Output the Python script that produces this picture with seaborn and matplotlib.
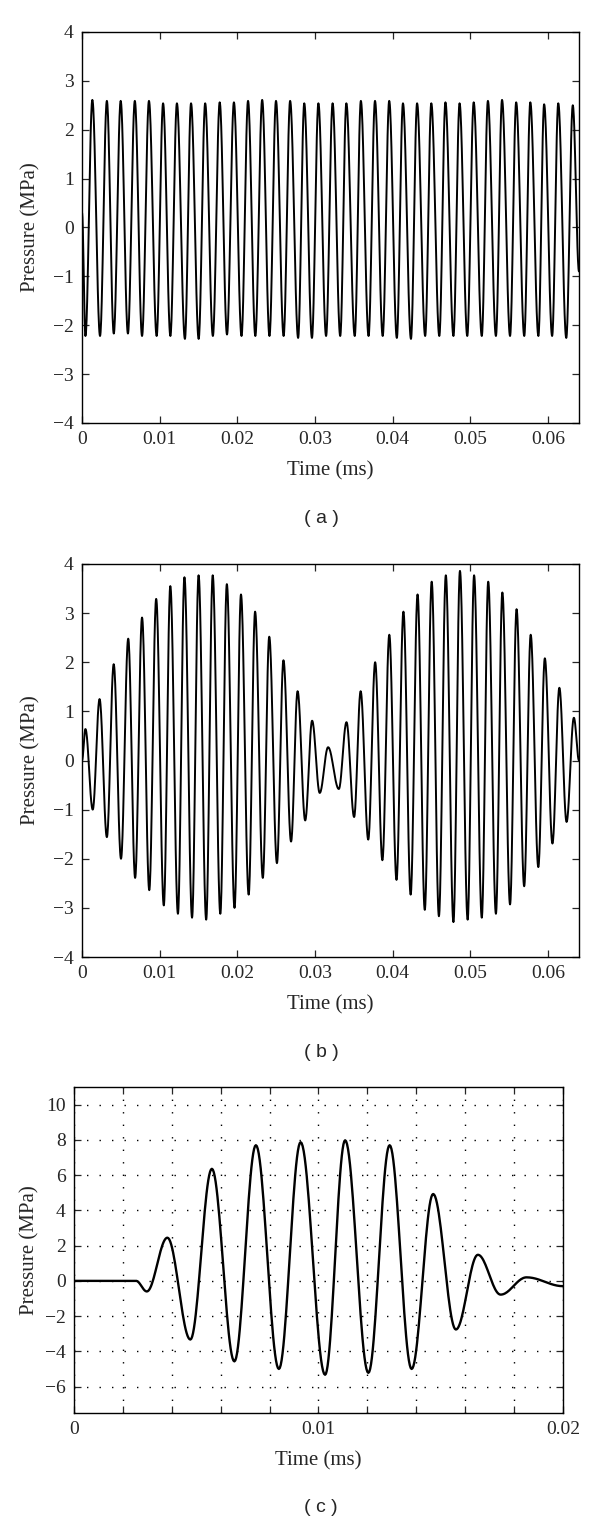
import numpy as np
import pandas as pd
import matplotlib
matplotlib.use("Agg")
import matplotlib.pyplot as plt
from matplotlib.ticker import FixedLocator, FuncFormatter
import seaborn as sns

# --- (a) constant-amplitude signal: extrema (time in ms, MPa) ---
a_trough_t = [0.00044, 0.00232, 0.00409, 0.00591, 0.00773, 0.00961, 0.01138, 0.01325,
              0.01502, 0.01685, 0.01867, 0.02054, 0.02232, 0.02414, 0.02596, 0.02783,
              0.02961, 0.03143, 0.03325, 0.03512, 0.03690, 0.03872, 0.04054, 0.04236,
              0.04419, 0.04601, 0.04783, 0.04961, 0.05148, 0.05330, 0.05512, 0.05695,
              0.05877, 0.06054, 0.06236]
a_trough_p = [-2.22, -2.22, -2.17, -2.17, -2.22, -2.22, -2.22, -2.28, -2.28, -2.22,
              -2.19, -2.22, -2.22, -2.22, -2.22, -2.26, -2.26, -2.22, -2.22, -2.22,
              -2.22, -2.22, -2.26, -2.28, -2.22, -2.22, -2.22, -2.22, -2.22, -2.22,
              -2.22, -2.22, -2.22, -2.22, -2.26]
a_peak_t = [0.00133, 0.00320, 0.00498, 0.00680, 0.00862, 0.01044, 0.01222, 0.01404,
            0.01586, 0.01773, 0.01956, 0.02138, 0.02320, 0.02498, 0.02680, 0.02862,
            0.03044, 0.03227, 0.03404, 0.03591, 0.03773, 0.03956, 0.04133, 0.04315,
            0.04498, 0.04680, 0.04862, 0.05044, 0.05227, 0.05409, 0.05591, 0.05773,
            0.05951, 0.06133, 0.06320]
a_peak_p = [2.61, 2.59, 2.59, 2.59, 2.59, 2.54, 2.54, 2.54, 2.54, 2.56, 2.56, 2.59,
            2.61, 2.59, 2.59, 2.54, 2.54, 2.54, 2.54, 2.59, 2.59, 2.59, 2.54, 2.54,
            2.54, 2.56, 2.54, 2.56, 2.59, 2.61, 2.56, 2.56, 2.52, 2.54, 2.50]
a_start = (0.0, 0.3)
a_end = (0.064, -0.9)

# --- (b) beating signal: alternating peak / trough extrema ---
b_ext_t = [0.0, 0.00044, 0.00138, 0.00226, 0.00320, 0.00408, 0.00502, 0.00595, 0.00684,
           0.00773, 0.00866, 0.00955, 0.01053, 0.01137, 0.01235, 0.01319, 0.01417,
           0.01501, 0.01599, 0.01683, 0.01781, 0.01865, 0.01964, 0.02047, 0.02146,
           0.02229, 0.02328, 0.02411, 0.02510, 0.02594, 0.02692, 0.02776, 0.02874,
           0.02963, 0.03061, 0.03169, 0.03307, 0.03406, 0.03504, 0.03588, 0.03686,
           0.03775, 0.03868, 0.03957, 0.04050, 0.04139, 0.04232, 0.04321, 0.04414,
           0.04503, 0.04596, 0.04685, 0.04783, 0.04867, 0.04966, 0.05049, 0.05148,
           0.05231, 0.05330, 0.05413, 0.05512, 0.05596, 0.05694, 0.05778, 0.05876,
           0.05960, 0.06058, 0.06147, 0.06240, 0.06334, 0.064]
b_ext_p = [0.0, 0.64, -1.0, 1.25, -1.56, 1.96, -2.0, 2.48, -2.39, 2.91, -2.64, 3.29,
           -2.95, 3.55, -3.12, 3.73, -3.2, 3.77, -3.24, 3.77, -3.12, 3.59, -3.0, 3.38,
           -2.73, 3.03, -2.39, 2.52, -2.09, 2.04, -1.65, 1.41, -1.22, 0.81, -0.66, 0.27,
           -0.58, 0.78, -1.15, 1.41, -1.61, 2.0, -2.03, 2.56, -2.43, 3.03, -2.73, 3.38,
           -3.04, 3.64, -3.17, 3.77, -3.29, 3.86, -3.24, 3.77, -3.2, 3.64, -3.12, 3.42,
           -2.93, 3.08, -2.56, 2.56, -2.17, 2.08, -1.69, 1.48, -1.25, 0.87, 0.0]

# --- (c) tone burst ---
c_ext_t = [0.0, 0.00254, 0.00298, 0.00382, 0.00476, 0.00564, 0.00656, 0.00744, 0.00838,
           0.00927, 0.01027, 0.01109, 0.01204, 0.01291, 0.01381, 0.01469, 0.01562,
           0.01652, 0.01745, 0.01851, 0.02]
c_ext_p = [0.0, 0.0, -0.6, 2.45, -3.33, 6.36, -4.57, 7.7, -5.0, 7.87, -5.33, 7.98,
           -5.22, 7.7, -5.0, 4.93, -2.76, 1.48, -0.78, 0.2, -0.3]

AB_XTICKS = [0, 0.01, 0.02, 0.03, 0.04, 0.05, 0.06]
AB_YTICKS = [-4, -3, -2, -1, 0, 1, 2, 3, 4]
C_XTICKS = [0, 0.002, 0.004, 0.006, 0.008, 0.01, 0.012, 0.014, 0.016, 0.018, 0.02]
C_XLABELED = [0, 0.01, 0.02]
C_YTICKS = [-6, -4, -2, 0, 2, 4, 6, 8, 10]


def wave_frame(times, values, n=24):
    """Join the read extrema with half-cosine arcs so the trace looks like the scope trace."""
    s = np.linspace(0, 1, n, endpoint=False)
    w = (1 - np.cos(np.pi * s)) / 2
    xs, ys = [], []
    for t0, t1, p0, p1 in zip(times[:-1], times[1:], values[:-1], values[1:]):
        xs.append(t0 + (t1 - t0) * s)
        ys.append(p0 + (p1 - p0) * w)
    xs.append([times[-1]])
    ys.append([values[-1]])
    return pd.DataFrame({"t": np.concatenate(xs), "p": np.concatenate(ys)})


def style_axes(ax, ypad=9, fs_tick=14, fs_label=15):
    for sp in ax.spines.values():
        sp.set_visible(True)
        sp.set_color("black")
        sp.set_linewidth(1.0)
    ax.tick_params(direction="in", top=True, right=True, length=5, width=0.9,
                   labelsize=fs_tick, pad=6)
    ax.set_xlabel("Time (ms)", fontsize=fs_label, labelpad=9)
    ax.set_ylabel("Pressure (MPa)", fontsize=fs_label, labelpad=ypad)


sns.set_style("ticks")
plt.rcParams["font.family"] = ["Liberation Serif", "DejaVu Serif"]
plt.rcParams["axes.unicode_minus"] = True

fig = plt.figure(figsize=(6.0, 15.21), dpi=100)
ax_a = fig.add_axes([0.1367, 0.7219, 0.8283, 0.2571])
ax_b = fig.add_axes([0.1367, 0.3708, 0.8283, 0.2584])
ax_c = fig.add_axes([0.1233, 0.0710, 0.8150, 0.2143])

# (a)
a_t = [a_start[0]]
a_p = [a_start[1]]
for tt, tp, pt, pp in zip(a_trough_t, a_trough_p, a_peak_t, a_peak_p):
    a_t += [tt, pt]
    a_p += [tp, pp]
a_t.append(a_end[0])
a_p.append(a_end[1])
sns.lineplot(data=wave_frame(a_t, a_p), x="t", y="p", ax=ax_a, color="black",
             linewidth=1.4, sort=False, estimator=None)

# (b)
sns.lineplot(data=wave_frame(b_ext_t, b_ext_p), x="t", y="p", ax=ax_b, color="black",
             linewidth=1.4, sort=False, estimator=None)

for ax in (ax_a, ax_b):
    ax.set_xlim(0, 0.064)
    ax.set_ylim(-4, 4)
    ax.set_xticks(AB_XTICKS)
    ax.set_xticklabels(["0" if v == 0 else f"{v:g}" for v in AB_XTICKS])
    ax.set_yticks(AB_YTICKS)
    style_axes(ax)

# (c)
sns.lineplot(data=wave_frame(c_ext_t, c_ext_p), x="t", y="p", ax=ax_c, color="black",
             linewidth=1.7, sort=False, estimator=None)
ax_c.set_xlim(0, 0.02)
ax_c.set_ylim(-7.5, 11)
ax_c.xaxis.set_major_locator(FixedLocator(C_XTICKS))
ax_c.xaxis.set_major_formatter(FuncFormatter(
    lambda v, _: (f"{v:g}" if any(abs(v - l) < 1e-9 for l in C_XLABELED) else "")))
ax_c.set_yticks(C_YTICKS)
ax_c.grid(True, color="black", linestyle=(0, (1, 8)), linewidth=1.0)
style_axes(ax_c, ypad=4)

for y, lab in [(0.6594, "( a )"), (0.3083, "( b )"), (0.0092, "( c )")]:
    fig.text(0.535, y, lab, ha="center", va="center", fontsize=14,
             family=["Liberation Sans", "DejaVu Sans"])

fig.savefig("out.png", dpi=100)
plt.close(fig)
